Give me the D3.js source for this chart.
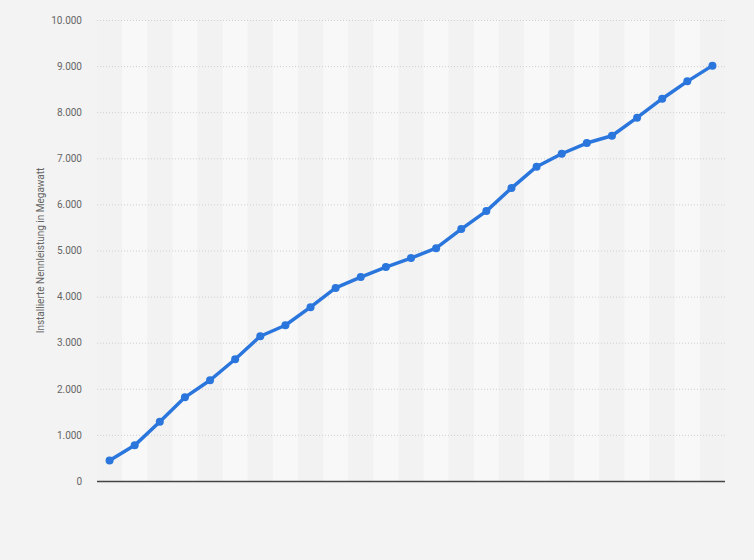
<!DOCTYPE html>
<html>
<head>
<meta charset="utf-8">
<script src="https://cdn.jsdelivr.net/npm/d3@7"></script>
<style>
  html, body { margin: 0; padding: 0; background: #f3f3f3; }
  svg { display: block; }
</style>
</head>
<body>
<svg id="chart" width="754" height="560"></svg>
<script>
// Data (years are not labelled in the chart; indices used as categories)
const categories = d3.range(1, 26).map(String);
const values = [447, 773, 1286, 1815, 2185, 2641, 3140, 3379, 3770, 4189,
                4423, 4640, 4835, 5051, 5464, 5855, 6354, 6818, 7099, 7331,
                7490, 7881, 8293, 8669, 9010];
const yTicks = [0, 1000, 2000, 3000, 4000, 5000, 6000, 7000, 8000, 9000, 10000];
const yTitle = "Installierte Nennleistung in Megawatt";

const svg = d3.select("#chart");
const margin = { left: 97, right: 29, top: 20, bottom: 79 };
const W = 754, H = 560;
const iw = W - margin.left - margin.right;
const ih = H - margin.top - margin.bottom;

const x = d3.scaleBand().domain(categories).range([margin.left, margin.left + iw]).padding(0);
const y = d3.scaleLinear().domain([0, 10000]).range([margin.top + ih, margin.top]);

const fmt = d3.formatLocale({ decimal: ",", thousands: ".", grouping: [3], currency: ["", " €"] }).format(",d");

// background
svg.append("rect").attr("x", 0).attr("y", 0).attr("width", W).attr("height", H).attr("fill", "#f3f3f3");

// stripes
svg.append("g").selectAll("rect").data(categories).join("rect")
  .attr("x", d => x(d))
  .attr("y", margin.top)
  .attr("width", x.bandwidth())
  .attr("height", ih)
  .attr("fill", (d, i) => i % 2 === 0 ? "#f2f2f2" : "#f8f8f8");

// grid lines
const yAxis = d3.axisLeft(y).tickValues(yTicks).tickFormat(fmt).tickSize(-iw).tickPadding(15);
const gy = svg.append("g").attr("transform", `translate(${margin.left},0)`).call(yAxis);
gy.select(".domain").remove();
gy.selectAll(".tick line")
  .attr("stroke", "#cfcfcf")
  .attr("stroke-width", 1)
  .attr("stroke-dasharray", "1,2")
  .filter(d => d === 0).remove();
gy.selectAll(".tick text")
  .attr("fill", "#666")
  .style("font-family", "Roboto, 'Liberation Sans', Arial, sans-serif")
  .style("font-size", "10px");

// x axis line
svg.append("line")
  .attr("x1", margin.left).attr("x2", margin.left + iw)
  .attr("y1", y(0) + 0.5).attr("y2", y(0) + 0.5)
  .attr("stroke", "#444").attr("stroke-width", 1.5);

// y title
svg.append("text")
  .attr("transform", `translate(44,${margin.top + ih / 2}) rotate(-90)`)
  .attr("text-anchor", "middle")
  .attr("fill", "#666")
  .style("font-family", "Roboto, 'Liberation Sans', Arial, sans-serif")
  .style("font-size", "10px")
  .text(yTitle);

// line
const line = d3.line()
  .x((d, i) => x(categories[i]) + x.bandwidth() / 2)
  .y(d => y(d));

svg.append("path")
  .datum(values)
  .attr("d", line)
  .attr("fill", "none")
  .attr("stroke", "#2a76dd")
  .attr("stroke-width", 3.5)
  .attr("stroke-linejoin", "round")
  .attr("stroke-linecap", "round");

svg.append("g").selectAll("circle").data(values).join("circle")
  .attr("cx", (d, i) => x(categories[i]) + x.bandwidth() / 2)
  .attr("cy", d => y(d))
  .attr("r", 4)
  .attr("fill", "#2a76dd");
</script>
</body>
</html>
